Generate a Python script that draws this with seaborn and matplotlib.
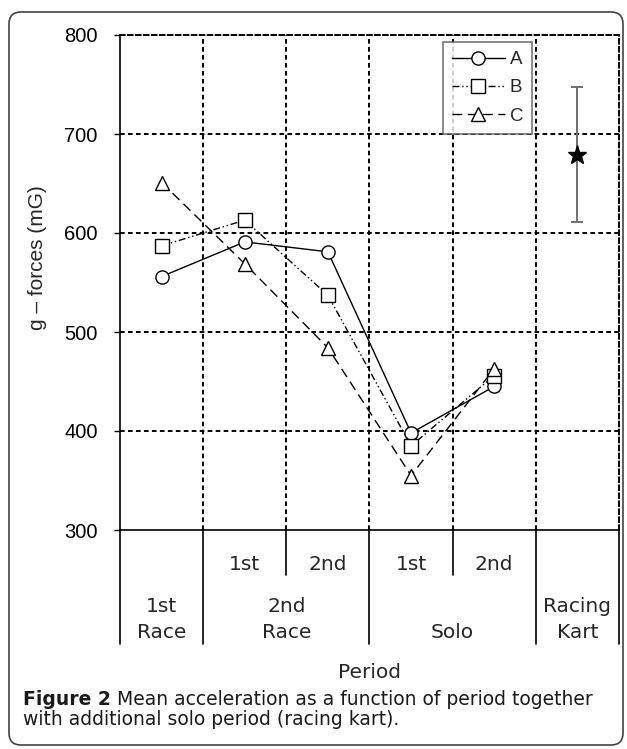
import matplotlib
matplotlib.use('Agg')
import matplotlib.pyplot as plt
import matplotlib.transforms as mtransforms
from matplotlib.lines import Line2D
from matplotlib.patches import FancyBboxPatch
import seaborn as sns
import pandas as pd

# ---------------- data ----------------
periods = ['1st Race', '2nd Race 1st', '2nd Race 2nd', 'Solo 1st', 'Solo 2nd']
series_A = [556, 591, 581, 398, 445]
series_B = [587, 613, 537, 385, 456]
series_C = [651, 569, 484, 355, 463]
kart_mean = 679
kart_err = 68
row1_labels = ['', '1st', '2nd', '1st', '2nd', '']
group_labels = ['1st\nRace', '2nd\nRace', 'Solo', 'Racing\nKart']
group_pos = [0, 1.5, 3.5, 5]
yticks = [300, 400, 500, 600, 700, 800]
ylabel = 'g – forces (mG)'
xlabel = 'Period'
cap_bold = 'Figure 2'
cap_line1 = ' Mean acceleration as a function of period together'
cap_line2 = 'with additional solo period (racing kart).'

sns.set_style('white')
plt.rcParams['font.family'] = ['Liberation Sans', 'DejaVu Sans']

W, H = 627, 749
fig = plt.figure(figsize=(W / 100, H / 100), dpi=100)
ax = fig.add_axes([120 / W, 1 - 530 / H, 499 / W, 495 / H])

rows = []
for name, vals in [('A', series_A), ('B', series_B), ('C', series_C)]:
    for i, v in enumerate(vals):
        rows.append({'pos': i, 'val': v, 'group': name})
df = pd.DataFrame(rows)

dashes = {'A': '', 'B': (5, 2, 1, 2, 1, 2), 'C': (7, 4)}
markers = {'A': 'o', 'B': 's', 'C': '^'}
sns.lineplot(data=df, x='pos', y='val', style='group', dashes=dashes,
             markers=markers, color='black', markerfacecolor='white',
             markeredgecolor='black', markeredgewidth=1.0, markersize=9.5,
             linewidth=1.0, legend=False, ax=ax, zorder=4, clip_on=False)

# racing kart
ax.errorbar([5], [kart_mean], yerr=[kart_err], fmt='*', color='black',
            ms=14, ecolor='#707070', elinewidth=1.4, capsize=4.5, capthick=1.4,
            zorder=5)

# grid
gls = (0, (2.4, 1.7))
for y in yticks[1:-1]:
    ax.axhline(y, color='black', lw=1.4, ls=gls, zorder=1)
for x in [0.5, 1.5, 2.5, 3.5, 4.5]:
    ax.axvline(x, color='black', lw=1.4, ls=gls, zorder=1)

ax.set_xlim(-0.5, 5.5)
ax.set_ylim(300, 800)
ax.set_xticks([])
ax.set_yticks(yticks)
ax.set_yticklabels([str(v) for v in yticks])
ax.tick_params(axis='y', direction='out', length=4, width=1, pad=12,
               labelsize=14.5, left=True, colors='black')
ax.set_xlabel('')
ax.set_ylabel(ylabel, fontsize=15)
ax.yaxis.set_label_coords(-0.146, (530 - 258) / 495)

for s in ['left', 'bottom']:
    ax.spines[s].set_color('black')
    ax.spines[s].set_linewidth(1.2)
for s in ['top', 'right']:
    ax.spines[s].set_color('black')
    ax.spines[s].set_linewidth(1.4)
    ax.spines[s].set_linestyle(gls)

# legend
handles = []
for name in ['A', 'B', 'C']:
    kw = dict(color='black', lw=1.0, marker=markers[name], mfc='white',
              mec='black', mew=1.0, ms=9.5)
    if dashes[name]:
        kw['dashes'] = dashes[name]
    handles.append(Line2D([], [], **kw))
leg = ax.legend(handles, ['A', 'B', 'C'], loc='upper left',
                bbox_to_anchor=((443 - 120) / 499, (530 - 42) / 495),
                frameon=True, fancybox=False, fontsize=13.5, handlelength=2.8,
                handletextpad=0.27, borderaxespad=0, borderpad=0.48,
                labelspacing=0.6)
leg.get_frame().set_edgecolor('#555555')
leg.get_frame().set_linewidth(1.2)
leg.set_zorder(6)

# table under the axis
tfont = ['DejaVu Sans']
trans = mtransforms.blended_transform_factory(ax.transData, ax.transAxes)
for xb in [-0.5, 0.5, 2.5, 4.5, 5.5]:
    ax.plot([xb, xb], [0, (530 - 644) / 495], transform=trans, color='black',
            lw=1.2, clip_on=False)
for xb in [1.5, 3.5]:
    ax.plot([xb, xb], [0, (530 - 575) / 495], transform=trans, color='black',
            lw=1.2, clip_on=False)
for i, lab in enumerate(row1_labels):
    if lab:
        ax.text(i, (530 - 570) / 495, lab, transform=trans, ha='center',
                va='baseline', fontsize=14.5, family=tfont)
for xp, lab in zip(group_pos, group_labels):
    ax.text(xp, (530 - 638) / 495, lab, transform=trans, ha='center',
            va='baseline', fontsize=14.5, linespacing=1.45, family=tfont)
ax.text(0.5, (530 - 678) / 495, xlabel, transform=ax.transAxes, ha='center',
        va='baseline', fontsize=14.5, family=tfont)

# caption
cap_font = ['DejaVu Sans']
cs = 13.5
t1 = fig.text(23 / W, 1 - 705 / H, cap_bold, fontweight='bold', va='baseline',
              ha='left', fontsize=cs, family=cap_font, color='#1a1a1a')
fig.canvas.draw()
bb = t1.get_window_extent()
fig.text(bb.x1 / W, 1 - 705 / H, cap_line1, va='baseline', ha='left',
         fontsize=cs, family=cap_font, color='#1a1a1a')
fig.text(23 / W, 1 - 725 / H, cap_line2, va='baseline', ha='left',
         fontsize=cs, family=cap_font, color='#1a1a1a')

# rounded border
border = FancyBboxPatch((0.09, 0.04), 6.14, 7.33,
                        boxstyle='round,pad=0,rounding_size=0.12',
                        transform=fig.dpi_scale_trans, facecolor='none',
                        edgecolor='#444444', linewidth=1.2)
fig.add_artist(border)

fig.savefig('out.png', dpi=100)
